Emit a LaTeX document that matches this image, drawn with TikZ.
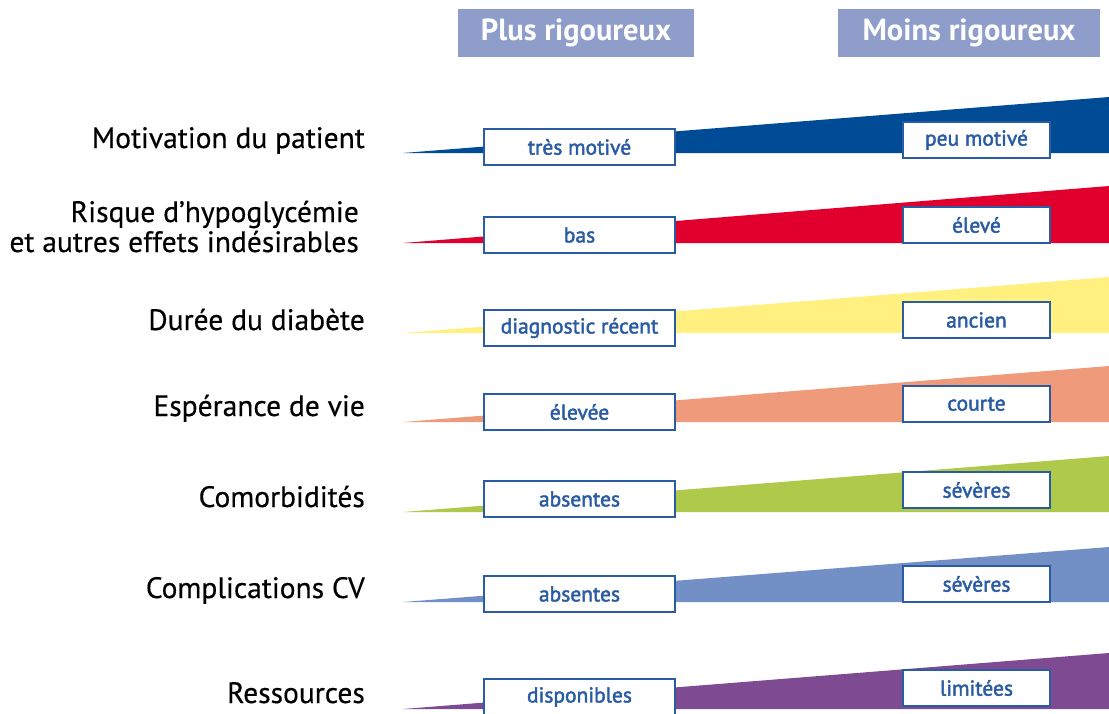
\documentclass[tikz,border=0pt]{standalone}
\usepackage{fontspec}
\setmainfont{PT Sans}
\newfontfamily\critfont[FakeBold=0.4]{PT Sans}
\newfontfamily\choicefont[FakeBold=2]{PT Sans}

\definecolor{headblue}{HTML}{8F9DCB}
\definecolor{boxblue}{HTML}{2A5CA4}
\definecolor{rowblue}{HTML}{004B96}
\definecolor{rowred}{HTML}{E1002D}
\definecolor{rowyellow}{HTML}{FFF07F}
\definecolor{rowsalmon}{HTML}{EF9B7B}
\definecolor{rowgreen}{HTML}{AFCA4B}
\definecolor{rowsteel}{HTML}{7390C6}
\definecolor{rowpurple}{HTML}{7E4A91}

\begin{document}
\begin{tikzpicture}[x=1pt, y=-1pt,
    head/.style={fill=headblue, text=white, inner sep=0pt, minimum height=48pt,
      font=\fontsize{30.5}{34}\selectfont\bfseries},
    choice/.style={draw=boxblue, line width=2.5pt, fill=white, text=boxblue,
      inner sep=0pt, minimum width=191pt, minimum height=36pt,
      font=\choicefont\fontsize{21.5}{24}\selectfont},
    crit/.style={anchor=base east, align=right, inner sep=0pt,
      font=\critfont\fontsize{29.5}{30}\selectfont}]
  \useasboundingbox (0,0) rectangle (1109,713);

  % column headers
  \node[head, minimum width=236pt] (plus) at (576,33) {Plus rigoureux};
  \node[head, minimum width=262pt] (moins) at (969,33) {Moins rigoureux};

  % one row per criterion: wedge, label, two boxes
  \foreach \b/\t/\lc/\rc/\lx/\ly/\col/\crit/\lo/\hi [count=\i] in {
      153/97/147/140/365/148/rowblue/{Motivation du patient}/{très motivé}/{peu motivé},
      243/186/235/225/359/252/rowred/{Risque d’hypoglycémie\\et autres effets indésirables}/{bas}/{élevé},
      333/277/328/320/365/330/rowyellow/{Durée du diabète}/{diagnostic récent}/{ancien},
      422/366/412/404/365/416/rowsalmon/{Espérance de vie}/{élevée}/{courte},
      512/456/499/490/365/507/rowgreen/{Comorbidités}/{absentes}/{sévères},
      602/547/594/584/365/598/rowsteel/{Complications CV}/{absentes}/{sévères},
      709/653/697/688/365/703/rowpurple/{Ressources}/{disponibles}/{limitées}}{
    \fill[\col] (403,\b) -- (1109,\t) -- (1109,\b) -- cycle;
    \node[crit] (crit\i) at (\lx,\ly) {\crit};
    \node[choice] (lo\i) at (579.5,\lc) {\lo};
    \node[choice, minimum width=147pt] (hi\i) at (976.5,\rc) {\hi};
  }
\end{tikzpicture}
\end{document}
